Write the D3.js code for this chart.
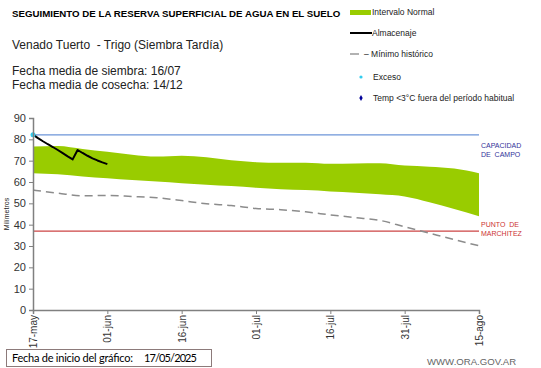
<!DOCTYPE html>
<html><head><meta charset="utf-8">
<script src="https://cdn.jsdelivr.net/npm/d3@7"></script>
<style>body{margin:0;background:#fff}svg{display:block}text{font-family:Arial,"Liberation Sans",sans-serif;white-space:pre}</style>
</head><body><svg id="c" width="541" height="368"></svg>
<script>
// Data (days after 17-may)
const bandDays = [0,5,10,15,20,25,30,35,40,45,50,55,60,65,70,75,80,85,90];
const bandUpper = [76.6,76.9,75.5,74.2,72.8,71.9,72.3,71.6,70.2,69.3,69.0,69.0,68.5,68.7,68.8,67.7,67.2,66.3,64.1];
const bandLower = [64.1,63.6,62.6,61.7,60.9,60.2,59.4,58.7,58.1,57.3,56.6,56.2,55.6,55.0,54.2,53.2,50.5,47.3,44.0];
const minHist = [56.2,54.8,53.5,53.7,53.2,52.6,51.3,49.8,49.0,47.6,47.0,46.0,44.6,43.3,42.0,39.0,36.0,33.0,30.1];
const storeDays = [0,1,2,3,4,5,6,7,8,9,10,11,12,13,14,15];
const storeVals = [82.2,80.6,79.1,77.7,76.4,75.0,73.5,72.0,70.6,75.0,73.6,72.3,71.1,70.1,69.2,68.4];
const excesoDays = [0];
const excesoVals = [82.2];
const tickDays = [0,15,30,45,60,75,90];
const tickLabels = ["17-may","01-jun","16-jun","01-jul","16-jul","31-jul","15-ago"];
const yTicks = [0,10,20,30,40,50,60,70,80,90];
const capacidad = 82.1;
const marchitez = 37.0;

const svg = d3.select("#c");
const x = d3.scaleLinear().domain([0,90]).range([33,479]);
const y = d3.scaleLinear().domain([0,90]).range([310,118]);

// band
const band = bandDays.map((d,i)=>({d,u:bandUpper[i],l:bandLower[i]}));
svg.append("path").datum(band)
  .attr("d", d3.area().x(p=>x(p.d)).y0(p=>y(p.l)).y1(p=>y(p.u)).curve(d3.curveMonotoneX))
  .attr("fill","#99cc00");

// reference lines
svg.append("line").attr("x1",x(0)).attr("x2",x(90)).attr("y1",y(capacidad)).attr("y2",y(capacidad))
  .attr("stroke","#6d95d8").attr("stroke-width",1.2);
svg.append("line").attr("x1",x(0)).attr("x2",x(90)).attr("y1",y(marchitez)).attr("y2",y(marchitez))
  .attr("stroke","#cc4444").attr("stroke-width",1.2);

// min historico
svg.append("path").datum(bandDays.map((d,i)=>[d,minHist[i]]))
  .attr("d", d3.line().x(p=>x(p[0])).y(p=>y(p[1])).curve(d3.curveMonotoneX))
  .attr("fill","none").attr("stroke","#8c8c8c").attr("stroke-width",1.5).attr("stroke-dasharray","8,5");

// almacenaje
svg.append("path").datum(storeDays.map((d,i)=>[d,storeVals[i]]))
  .attr("d", d3.line().x(p=>x(p[0])).y(p=>y(p[1])))
  .attr("fill","none").attr("stroke","#000").attr("stroke-width",2).attr("stroke-linejoin","round");

// exceso
svg.selectAll(".ex").data(excesoDays).enter().append("circle")
  .attr("cx",(d)=>x(d)).attr("cy",(d,i)=>y(excesoVals[i])).attr("r",2.5).attr("fill","#33ccee");

// axes
const ya = svg.append("g").attr("transform","translate(33,0)")
  .call(d3.axisLeft(y).tickValues(yTicks).tickSize(4).tickPadding(3));
ya.select(".domain").attr("stroke","#808080").attr("stroke-width",1.5);
ya.selectAll("line").attr("stroke","#808080");
ya.selectAll("text").attr("font-size",11).attr("fill","#333");

const xa = svg.append("g").attr("transform","translate(0,310)")
  .call(d3.axisBottom(x).tickValues(tickDays).tickFormat((d,i)=>tickLabels[i]).tickSize(4));
xa.select(".domain").attr("stroke","#808080").attr("stroke-width",1.5);
xa.selectAll("line").attr("stroke","#808080");
xa.selectAll("text").attr("font-size",10).attr("fill","#333")
  .attr("transform","rotate(-90)").attr("text-anchor","end").attr("x",-5).attr("y",0).attr("dy","0.35em");

// y title
svg.append("text").attr("transform","translate(9,214) rotate(-90)").attr("text-anchor","middle")
  .attr("font-size",7).attr("fill","#222").text("Milímetros");

// side labels
svg.append("text").attr("x",481).attr("y",148).attr("font-size",7).attr("fill","#333399").text("CAPACIDAD");
svg.append("text").attr("x",481).attr("y",157).attr("font-size",7).attr("fill","#333399").text("DE  CAMPO");
svg.append("text").attr("x",481).attr("y",227).attr("font-size",7).attr("fill","#cc3333").text("PUNTO  DE");
svg.append("text").attr("x",481).attr("y",236).attr("font-size",7).attr("fill","#cc3333").text("MARCHITEZ");

// titles
svg.append("text").attr("x",12).attr("y",17).attr("font-size",9.7).attr("font-weight","bold").attr("fill","#000")
  .text("SEGUIMIENTO DE LA RESERVA SUPERFICIAL DE AGUA EN EL SUELO");
svg.append("text").attr("x",12).attr("y",49).attr("font-size",12).attr("fill","#222")
  .text("Venado Tuerto  - Trigo (Siembra Tardía)");
svg.append("text").attr("x",12).attr("y",75).attr("font-size",12).attr("fill","#222")
  .text("Fecha media de siembra: 16/07");
svg.append("text").attr("x",12).attr("y",89).attr("font-size",12).attr("fill","#222")
  .text("Fecha media de cosecha: 14/12");

// legend
const lg = svg.append("g");
lg.append("rect").attr("x",350).attr("y",10).attr("width",21).attr("height",5).attr("fill","#99cc00");
lg.append("text").attr("x",372).attr("y",15).attr("font-size",8.5).attr("fill","#222").text("Intervalo Normal");
lg.append("line").attr("x1",350).attr("x2",372).attr("y1",33).attr("y2",33).attr("stroke","#000").attr("stroke-width",2);
lg.append("text").attr("x",372).attr("y",36).attr("font-size",8.5).attr("fill","#222").text("Almacenaje");
lg.append("line").attr("x1",350).attr("x2",359).attr("y1",54).attr("y2",54).attr("stroke","#999").attr("stroke-width",1.5);
lg.append("text").attr("x",364).attr("y",57).attr("font-size",8.5).attr("fill","#222").text("– Mínimo histórico");
lg.append("circle").attr("cx",361).attr("cy",77).attr("r",1.6).attr("fill","#33ccee");
lg.append("text").attr("x",373).attr("y",80).attr("font-size",8.5).attr("fill","#222").text("Exceso");
lg.append("path").attr("d",d3.symbol().type(d3.symbolDiamond).size(10)()).attr("transform","translate(361,98)").attr("fill","#000099");
lg.append("text").attr("x",373).attr("y",101).attr("font-size",8.5).attr("fill","#222").text("Temp <3°C fuera del período habitual");

// footer box
svg.append("rect").attr("x",6.5).attr("y",349.5).attr("width",205).attr("height",17).attr("fill","#fff").attr("stroke","#8c7a7a");
svg.append("text").attr("x",12).attr("y",362).attr("font-size",11).attr("fill","#000")
  .style("font-family","Lato, 'Open Sans', sans-serif")
  .attr("textLength",121).attr("lengthAdjust","spacing").text("Fecha de inicio del gráfico:");
svg.append("text").attr("x",144).attr("y",362).attr("font-size",11).attr("fill","#000")
  .style("font-family","Lato, 'Open Sans', sans-serif")
  .attr("textLength",53).attr("lengthAdjust","spacing").text("17/05/2025");
svg.append("text").attr("x",427).attr("y",365).attr("font-size",9.6).attr("fill","#666").text("WWW.ORA.GOV.AR");
</script></body></html>
